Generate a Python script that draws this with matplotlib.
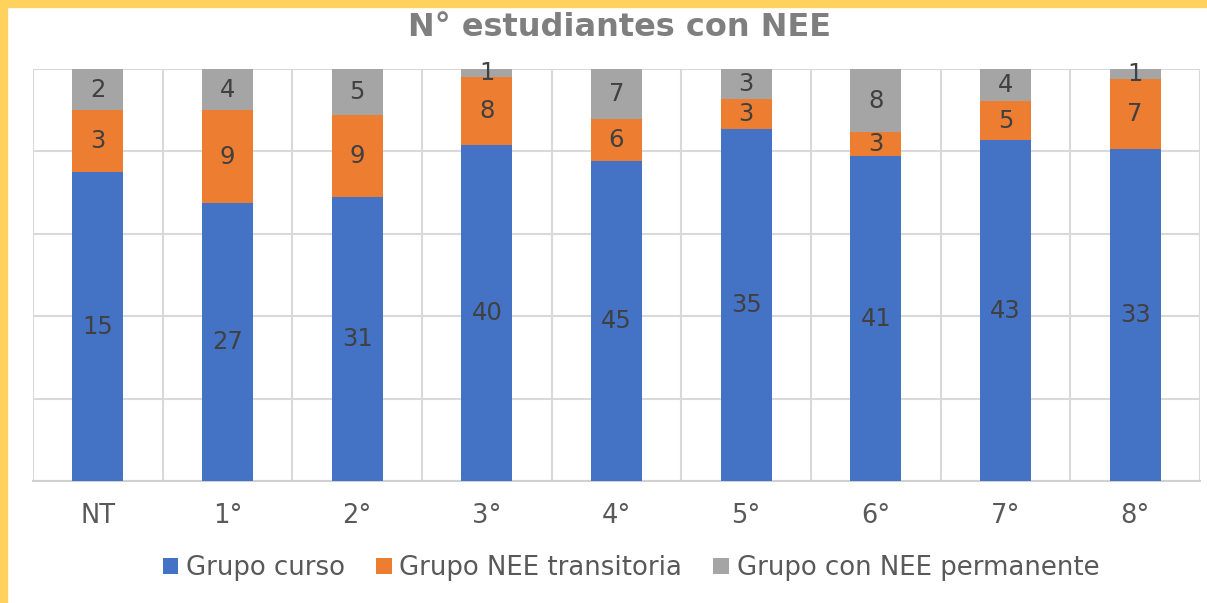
import numpy as np
import matplotlib
matplotlib.use('Agg')
from matplotlib import pyplot as plt
from matplotlib.patches import Rectangle

# data
categories = ['NT', '1°', '2°', '3°', '4°', '5°', '6°', '7°', '8°']
curso = [15, 27, 31, 40, 45, 35, 41, 43, 33]
transitoria = [3, 9, 9, 8, 6, 3, 3, 5, 7]
permanente = [2, 4, 5, 1, 7, 3, 8, 4, 1]
series_names = ['Grupo curso', 'Grupo NEE transitoria', 'Grupo con NEE permanente']
colors = ['#4472C4', '#ED7D31', '#A5A5A5']

plt.rcParams['font.family'] = ['DejaVu Sans']

W, H = 1207, 603
fig = plt.figure(figsize=(W/100., H/100.), dpi=100)
fig.patch.set_facecolor('white')

# yellow frame (top and left)
fig.add_artist(Rectangle((0, 0), 7./W, 1, transform=fig.transFigure,
                         color='#FFD25E', zorder=0))
fig.add_artist(Rectangle((0, 1-7./H), 1, 7./H, transform=fig.transFigure,
                         color='#FFD25E', zorder=0))

ax = fig.add_axes([33./W, 122./H, 1167./W, 412./H])

vals = np.array([curso, transitoria, permanente], dtype=float)
tot = vals.sum(axis=0)
frac = vals/tot
x = np.arange(len(categories))
bottom = np.zeros(len(categories))
for i in range(3):
    ax.bar(x, frac[i], 0.395, bottom=bottom, color=colors[i],
           label=series_names[i], zorder=3)
    for j in range(len(categories)):
        ax.text(x[j], bottom[j]+frac[i][j]/2., '%d' % vals[i][j],
                ha='center', va='center', fontsize=17.5, color='#404040', zorder=4)
    bottom += frac[i]

ax.set_xlim(-0.5, len(categories)-0.5)
ax.set_ylim(0, 1)
ax.set_yticks(np.arange(0, 1.01, 0.2))
ax.set_yticklabels([])
ax.set_xticks(x)
ax.set_xticklabels(categories, fontsize=18.5, color='#595959')
ax.set_xticks(np.arange(-0.5, len(categories), 1.), minor=True)
ax.tick_params(axis='both', which='both', length=0)
ax.tick_params(axis='x', pad=16)
ax.grid(axis='y', which='major', color='#D9D9D9', lw=1.5, zorder=0)
ax.grid(axis='x', which='minor', color='#D9D9D9', lw=1.5, zorder=0)
for s in ['top', 'right', 'left']:
    ax.spines[s].set_visible(False)
ax.spines['bottom'].set_color('#D0D0D0')
ax.spines['bottom'].set_linewidth(1.5)

fig.text(619./W, 1-27./H, 'N° estudiantes con NEE', ha='center', va='center',
         fontsize=23, fontweight='bold', color='#7F7F7F')

fig.legend(loc='center', bbox_to_anchor=(631./W, 1-568./H), ncol=3,
           frameon=False, fontsize=18.7, handlelength=0.6, handleheight=0.6,
           handletextpad=0.3, columnspacing=1.2, labelcolor='#595959')

fig.savefig('out.png', dpi=100)
